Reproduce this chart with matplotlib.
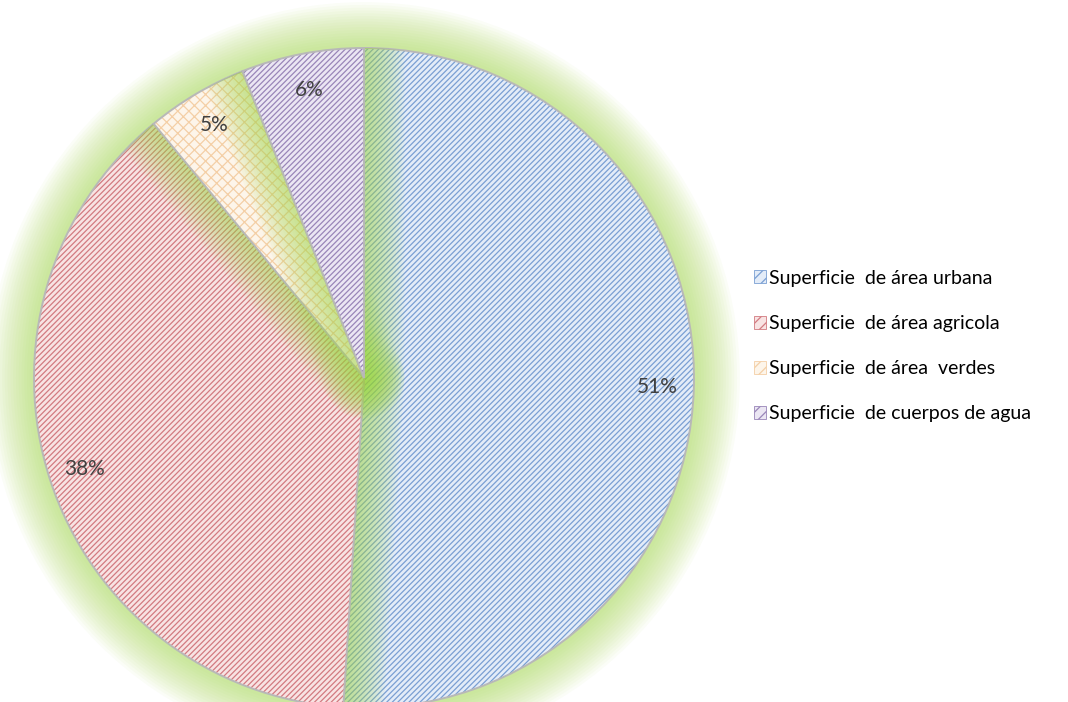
import matplotlib
matplotlib.use("Agg")
import matplotlib.pyplot as plt
from matplotlib.patches import Wedge, Patch, Circle

# Land-use shares (%)
categories = [
    "Superficie  de área urbana",
    "Superficie  de área agricola",
    "Superficie  de área  verdes",
    "Superficie  de cuerpos de agua",
]
shares = [51, 38, 5, 6]

face_colors = ["#e3ecf8", "#f8e3e3", "#fdf5ea", "#ebe6f3"]
hatch_colors = ["#7a9fd3", "#d27a80", "#f4cfa6", "#9985b8"]
hatches = ["//////", "//////", "xxx", "//////"]
glow_color = "#a3d94a"

plt.rcParams["font.family"] = ["Lato", "DejaVu Sans"]
plt.rcParams["hatch.linewidth"] = 0.9

fig = plt.figure(figsize=(10.68, 7.02), dpi=100)
ax = fig.add_axes([0, 0, 1, 1])

cx, cy, r = 364, 324, 330

wedges, texts, autotexts = ax.pie(
    shares,
    center=(cx, cy),
    radius=r,
    startangle=90,
    counterclock=False,
    colors=face_colors,
    autopct="%1.0f%%",
    pctdistance=0.89,
    wedgeprops=dict(edgecolor="none", linewidth=0),
    textprops=dict(fontsize=15, color="#404040"),
    frame=True,
)
ax.set_xlim(0, 1068)
ax.set_ylim(0, 702)
ax.set_aspect("equal")
ax.axis("off")

# outer soft glow around the whole pie
for k in range(16):
    lw = 66 - k * 4
    ax.add_patch(Circle((cx, cy), r, facecolor="none", edgecolor=glow_color,
                        linewidth=lw, alpha=0.045, zorder=1))

clip_circle = Circle((cx, cy), r, transform=ax.transData)

for i, w in enumerate(wedges):
    base = 10 * i + 2
    # glow of each slice spilling onto its neighbours inside the pie
    for k in range(14):
        lw = 58 - k * 4
        g = Wedge(w.center, w.r, w.theta1, w.theta2,
                  facecolor="none", edgecolor=glow_color,
                  linewidth=lw, alpha=0.05, joinstyle="round",
                  zorder=base)
        ax.add_patch(g)
        g.set_clip_path(clip_circle)
    w.set_zorder(base + 1)
    # hatched overlay
    h = Wedge(w.center, w.r, w.theta1, w.theta2,
              facecolor="none", edgecolor=hatch_colors[i],
              linewidth=0, hatch=hatches[i], zorder=base + 2)
    ax.add_patch(h)
    outline = Wedge(w.center, w.r, w.theta1, w.theta2,
                    facecolor="none", edgecolor="#b8b8b8",
                    linewidth=1.4, zorder=base + 3)
    ax.add_patch(outline)

for t in autotexts:
    t.set_zorder(100)

handles = [
    Patch(facecolor=face_colors[i], edgecolor=hatch_colors[i], hatch="///",
          linewidth=0.6)
    for i in range(len(categories))
]
leg = ax.legend(
    handles, categories,
    loc="upper left",
    bbox_to_anchor=(744 / 1068, 1 - 260 / 702),
    bbox_transform=fig.transFigure,
    frameon=False,
    fontsize=14,
    handlelength=0.65,
    handleheight=0.65,
    handletextpad=0.15,
    labelspacing=1.45,
    borderpad=0,
)
leg.set_zorder(200)

fig.savefig("out.png", dpi=100, facecolor="white")
